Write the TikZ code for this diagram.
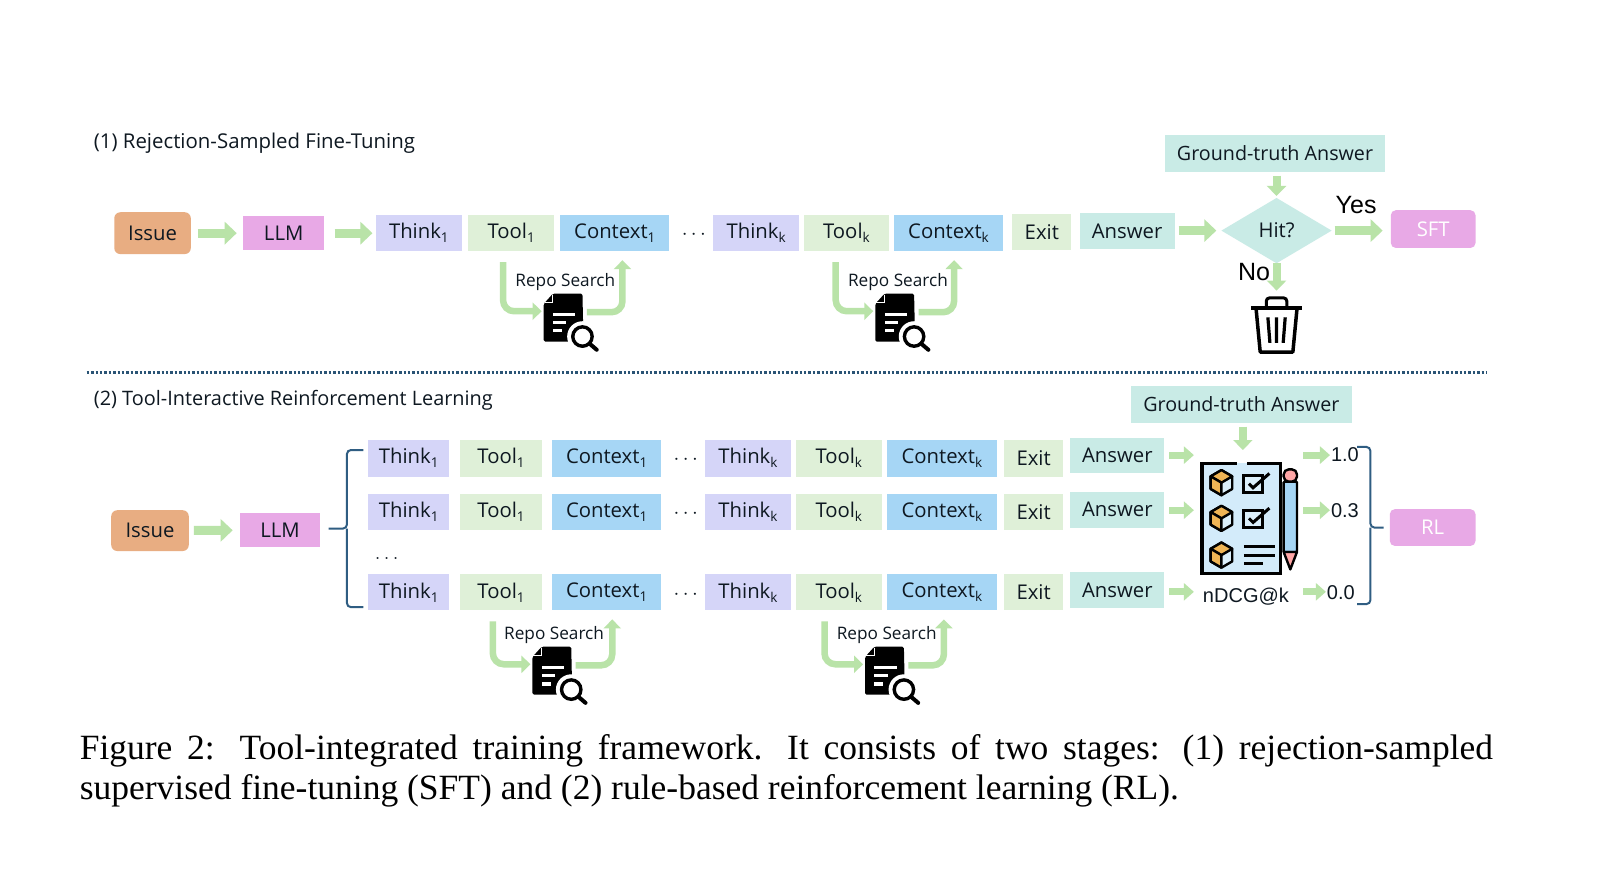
\documentclass[tikz,border=0pt]{standalone}
\usepackage{fontspec}
\setmainfont{Open Sans}
\newfontfamily\capfont{Liberation Serif}
\newfontfamily\helv{Liberation Sans}
\usetikzlibrary{arrows.meta,shapes.geometric,calc}
\definecolor{cissue}{HTML}{E8AD82}
\definecolor{cllm}{HTML}{E8A9E6}
\definecolor{cthink}{HTML}{D5D5F8}
\definecolor{ctool}{HTML}{DFF0D8}
\definecolor{cctx}{HTML}{A6D6F5}
\definecolor{cans}{HTML}{C9EBE6}
\definecolor{carrow}{HTML}{B9E3A8}
\definecolor{cbrace}{HTML}{2F5D82}
\definecolor{ctxt}{HTML}{0E1821}
\definecolor{cbox}{HTML}{EFB455}
\newlength{\pxu}\setlength{\pxu}{1.0204pt}
\newcommand{\sz}[1]{\fontsize{#1}{#1}\selectfont}
\newcommand{\sbs}[1]{\raisebox{-4pt}{\sz{13.5}#1}}
% \bx{name}{style}{x1}{y1}{x2}{y2}{text}
\newcommand{\bx}[7]{%
 \pgfmathsetmacro{\bxw}{#5-#3}\pgfmathsetmacro{\bxh}{#6-#4}%
 \pgfmathsetmacro{\bxcx}{(#3+#5)/2}\pgfmathsetmacro{\bxcy}{(#4+#6)/2}%
 \node[#2,minimum width=\bxw\pxu,minimum height=\bxh\pxu] (#1) at (\bxcx,\bxcy) {\raisebox{-1.4pt}{#7}};}
\tikzset{
 x=1.0204pt,y=-1.0204pt,
 base/.style={inner sep=0pt,outer sep=0pt,text=ctxt,font=\sz{20.3}},
 issuebox/.style={base,fill=cissue,rounded corners=6pt},
 llmbox/.style={base,fill=cllm},
 thinkbox/.style={base,fill=cthink},
 toolbox/.style={base,fill=ctool},
 ctxbox/.style={base,fill=cctx},
 ansbox/.style={base,fill=cans},
 gtbox/.style={base,fill=cans,font=\sz{19.7}},
 resbox/.style={base,fill=cllm,rounded corners=5pt,text=white},
 fat/.style={draw=carrow,line width=9pt,-{Triangle[length=12pt,width=22pt]}},
 fatsmall/.style={draw=carrow,line width=8pt,-{Triangle[length=10pt,width=19pt]}},
 fatthin/.style={draw=carrow,line width=7pt,-{Triangle[length=10pt,width=17pt]}},
 fatcurve/.style={draw=carrow,line width=6.5pt,rounded corners=11pt,-{Triangle[length=9pt,width=17pt]}},
 lab/.style={inner sep=0pt,text=ctxt,font=\sz{17.2}},
 brace/.style={draw=cbrace,line width=2pt,rounded corners=4pt},
 hole/.style={inner sep=0pt,minimum width=52\pxu,minimum height=56\pxu},
 docicon/.pic={
  \fill[black,rounded corners=1.5pt] (9,0) -- (38,0) -- (39,47) -- (0,47) -- (0,10) -- cycle;
  \draw[white,line width=1pt] (1,9) -- (9,9) -- (9,1);
  \fill[white] (9,19) rectangle (31,22);
  \fill[white] (9,27) rectangle (22,30);
  \fill[white] (9,35) rectangle (18,38);
  \fill[white] (38,42) circle (15);
  \draw[black,line width=3.4pt] (38,42) circle (9.5);
  \draw[black,line width=4pt,line cap=round] (45,49) -- (52,55);
 },
 cube/.pic={
  \fill[cctx!40!white,draw=black,line width=2.4pt,line join=round] (0,-14) -- (12,-7) -- (12,7) -- (0,14) -- (-12,7) -- (-12,-7) -- cycle;
  \fill[cbox,draw=black,line width=2.4pt,line join=round] (0,-14) -- (12,-7) -- (0,0) -- (-12,-7) -- cycle;
  \fill[cbox,draw=black,line width=2.4pt,line join=round] (0,0) -- (-12,-7) -- (-12,7) -- (0,14) -- cycle;
 },
 checkbox/.pic={
  \draw[black,line width=3pt,fill=cctx!40!white] (-9,-8) rectangle (9,9);
  \draw[black,line width=3pt] (-4,0) -- (0,4) -- (16,-10);
 }
}
\begin{document}
\begin{tikzpicture}
\useasboundingbox (0,0) rectangle (1568,857.5);
\fill[white] (0,0) rectangle (1568,857.5);
% titles
\node[base,anchor=west,font=\sz{20.4}] (t1) at (92,140) {(1) Rejection-Sampled Fine-Tuning};
\node[base,anchor=west,font=\sz{19.9}] (t2) at (92,392) {(2) Tool-Interactive Reinforcement Learning};
\coordinate (dl) at (85,365); \coordinate (dr) at (1457,365);
\draw[cbrace!90!black,line width=2.4pt,dotted] (dl) -- (dr);
% stage 1
\bx{i1}{issuebox}{112}{208}{187}{249}{Issue}
\bx{l1}{llmbox}{238}{212}{318}{245}{LLM}
\bx{th1}{thinkbox}{368}{211}{453}{246}{Think\sbs{1}}
\bx{to1}{toolbox}{459}{211}{543}{246}{Tool\sbs{1}}
\bx{co1}{ctxbox}{549}{211}{656}{246}{Context\sbs{1}}
\node[base] (d1) at (680,230) {$\cdots$};
\bx{th2}{thinkbox}{699}{211}{783}{246}{Think\sbs{k}}
\bx{to2}{toolbox}{788}{211}{871}{246}{Tool\sbs{k}}
\bx{co2}{ctxbox}{876}{211}{983}{246}{Context\sbs{k}}
\bx{ex1}{toolbox}{992}{210}{1050}{245}{Exit}
\bx{an1}{ansbox}{1058}{209}{1151}{244}{Answer}
\bx{gt1}{gtbox}{1142}{132}{1357}{169}{Ground-truth Answer}
\node[base,diamond,aspect=1.7,fill=cans,minimum width=108\pxu,minimum height=64\pxu] (hit) at (1251,226) {Hit?};
\bx{sft}{resbox}{1363}{206}{1446}{243}{SFT}
\node[base,font=\helv\sz{25},text=black] (yes) at (1329,201) {Yes};
\node[base,font=\helv\sz{25},text=black] (no) at (1229,267) {No};
\node[hole] (trash) at (1251,318) {};
\begin{scope}[shift={(trash.center)}]
 \draw[black,line width=3.5pt,line join=round] (-20,-15) -- (-16,27) -- (16,27) -- (20,-15);
 \draw[black,line width=4pt] (-25,-16) -- (25,-16);
 \draw[black,line width=3pt,rounded corners=3pt] (-10,-16) -- (-10,-26) -- (10,-26) -- (10,-16);
 \draw[black,line width=3.2pt] (-8.5,-7) -- (-6.5,18) (0,-7) -- (0,18) (8.5,-7) -- (6.5,18);
\end{scope}
\draw[fat,shorten <=7\pxu,shorten >=6\pxu] (i1) -- (l1);
\draw[fat,shorten <=10\pxu,shorten >=3\pxu] (l1) -- (th1);
\draw[fat,shorten <=4\pxu,shorten >=5\pxu] (an1.east |- hit) -- (hit.west);
\draw[fatsmall,shorten <=3\pxu,shorten >=2\pxu] (gt1.south -| hit) -- (hit.north);
\draw[fat,shorten <=3\pxu,shorten >=8\pxu] (hit.east) -- (sft.west |- hit);
\draw[fatsmall,shorten <=0\pxu,shorten >=5\pxu] (hit.south) -- (trash.north);
% repo
\node[hole] (r1) at (559,316) {};
\path (r1.north west) pic {docicon};
\node[lab] (r1l) at (554,276.5) {Repo Search};
\draw[fatcurve,shorten <=11\pxu] (to1.south -| 493,0) |- ($(r1.west)+(-2,-11)$);
\draw[fatcurve,shorten >=9\pxu] ($(r1.east)+(-10,-10)$) -| (co1.south -| 610,0);
\node[hole] (r2) at (884,316) {};
\path (r2.north west) pic {docicon};
\node[lab] (r2l) at (880,276.5) {Repo Search};
\draw[fatcurve,shorten <=11\pxu] (to2.south -| 819,0) |- ($(r2.west)+(-2,-11)$);
\draw[fatcurve,shorten >=9\pxu] ($(r2.east)+(-10,-10)$) -| (co2.south -| 935,0);
% stage 2
\bx{i2}{issuebox}{109}{500}{185}{540}{Issue}
\bx{l2}{llmbox}{235}{503}{314}{536}{LLM}
\draw[fat,shorten <=5\pxu,shorten >=7\pxu] (i2) -- (l2);
\foreach \n/\ya/\yb/\yc/\yd in {a/431/467/429/464,b/484/519/482/517,c/563/598/561/596}{
 \bx{tha\n}{thinkbox}{361}{\ya}{440}{\yb}{Think\sbs{1}}
 \bx{toa\n}{toolbox}{451}{\ya}{531}{\yb}{Tool\sbs{1}}
 \bx{coa\n}{ctxbox}{541}{\ya}{648}{\yb}{Context\sbs{1}}
 \bx{thb\n}{thinkbox}{691}{\ya}{775}{\yb}{Think\sbs{k}}
 \bx{tob\n}{toolbox}{780}{\ya}{864}{\yb}{Tool\sbs{k}}
 \bx{cob\n}{ctxbox}{869}{\ya}{977}{\yb}{Context\sbs{k}}
 \bx{ex\n}{toolbox}{984}{\ya}{1042}{\yb}{Exit}
 \bx{an\n}{ansbox}{1049}{\yc}{1141}{\yd}{Answer}
 \node[base] (dd\n) at (672,\ya+20) {$\cdots$};
}
\node[base] (vd) at (379,547) {$\ldots$};
\bx{gt2}{gtbox}{1108}{378}{1325}{415}{Ground-truth Answer}
\bx{rl}{resbox}{1362}{499}{1446}{535}{RL}
% left brace
\coordinate (bl) at (322,518);
\draw[brace] (356,441) -- (340,441) -- (340,518) -- (bl);
\draw[brace] (356,595) -- (340,595) -- (340,518);
% checklist icon
\node[inner sep=0pt,minimum width=101\pxu,minimum height=110\pxu] (chk) at (1227,508) {};
\fill[cctx!50!white] (1178,454) rectangle (1255,562);
\draw[black,line width=3.2pt] (1212,454) -- (1178,454) -- (1178,562) -- (1255,562) -- (1255,454) -- (1222,454);
\path (1197,473) pic[scale=.88] {cube};
\path (1197,508) pic[scale=.88] {cube};
\path (1197,544) pic[scale=.88] {cube};
\path (1228,474) pic {checkbox};
\path (1228,508) pic {checkbox};
\draw[black,line width=3pt] (1219,536) -- (1249,536) (1219,544) -- (1249,544) (1219,552) -- (1238,552);
\draw[black,line width=2.4pt,fill=cctx,rounded corners=1pt] (1258,472) rectangle (1271,541);
\draw[black,line width=2.4pt,fill=red!35!white,rounded corners=5pt] (1258,472) -- (1258,460) -- (1271,460) -- (1271,472) -- cycle;
\draw[black,line width=2.4pt,fill=red!35!white,line join=round] (1258,541) -- (1264.5,558) -- (1271,541) -- cycle;
\node[base,font=\helv\sz{20}] (nd) at (1221,585) {nDCG@k};
\node[base,font=\helv\sz{20}] (v1) at (1318,446) {1.0};
\node[base,font=\helv\sz{20}] (v2) at (1318,500) {0.3};
\node[base,font=\helv\sz{20}] (v3) at (1314,581) {0.0};
\coordinate (br) at (1356,517);
\draw[brace] (1330,438) -- (1343,438) -- (1343,517) -- (br);
\draw[brace] (1330,592) -- (1343,592) -- (1343,517);
% arrows in stage 2
\draw[fatsmall,shorten <=3\pxu,shorten >=2\pxu] (gt2.south -| 1218,0) -- (1218,443);
\foreach \n/\y/\v in {a/446/v1,b/500/v2,c/580/v3}{
 \coordinate (ach\n) at (1170,\y);
 \draw[fatthin,shorten <=5\pxu] (an\n.east |- ach\n) -- (ach\n);
 \coordinate (oc\n) at (1277,\y);
 \draw[fatthin,shorten >=1\pxu] (oc\n) -- (\v.west |- oc\n);
}
% repo stage 2
\node[hole] (r3) at (548,662) {};
\path (r3.north west) pic {docicon};
\node[lab] (r3l) at (543,622.5) {Repo Search};
\draw[fatcurve,shorten <=11\pxu] (toac.south -| 483,0) |- ($(r3.west)+(-2,-11)$);
\draw[fatcurve,shorten >=9\pxu] ($(r3.east)+(-10,-10)$) -| (coac.south -| 600,0);
\node[hole] (r4) at (874,662) {};
\path (r4.north west) pic {docicon};
\node[lab] (r4l) at (869,622.5) {Repo Search};
\draw[fatcurve,shorten <=11\pxu] (tobc.south -| 808,0) |- ($(r4.west)+(-2,-11)$);
\draw[fatcurve,shorten >=9\pxu] ($(r4.east)+(-10,-10)$) -| (cobc.south -| 925,0);
% caption
\node[inner sep=0pt,anchor=north west,text=black,font=\capfont\sz{35.5}] (cap) at (78,719.5) {\parbox[t]{1385\pxu}{\baselineskip=39.8\pxu
 \hbox to \hsize{Figure 2:\hskip 0.3em plus .3em Tool-integrated training framework.\hskip 0.3em plus .3em It consists of two stages:\hskip 0.25em plus .3em (1) rejection-sampled}
 \hbox{supervised fine-tuning (SFT) and (2) rule-based reinforcement learning (RL).}}};
\end{tikzpicture}
\end{document}
